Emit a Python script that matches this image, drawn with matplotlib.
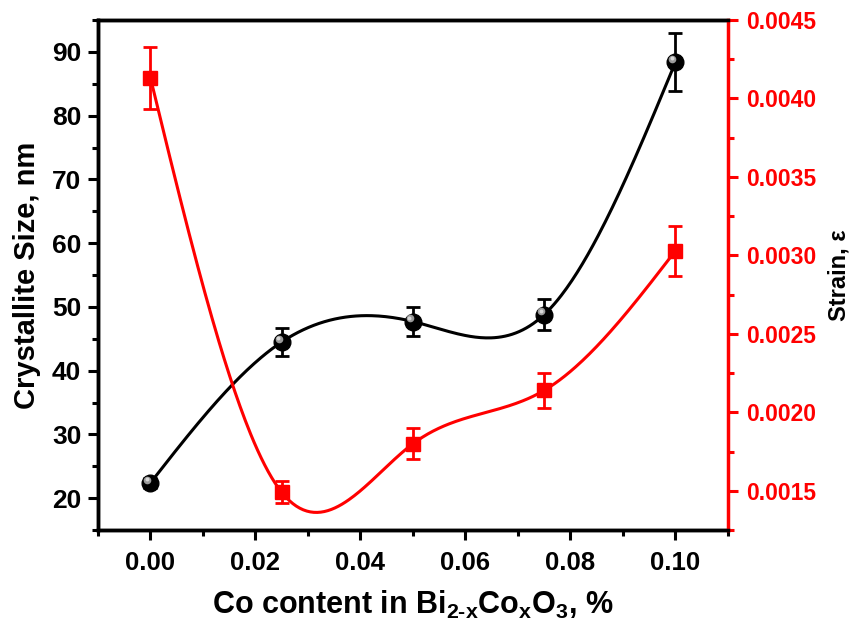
import numpy as np
import matplotlib
matplotlib.use("Agg")
import matplotlib.pyplot as plt
from matplotlib import font_manager
import matplotlib.transforms as mtransforms

# ---- data ----
co_content = [0.0, 0.025, 0.05, 0.075, 0.10]
crystallite_size = [22.4, 44.5, 47.7, 48.8, 88.4]
size_err = [0.8, 2.2, 2.3, 2.4, 4.5]
strain = [0.00413, 0.00149, 0.00180, 0.00214, 0.00303]
strain_err = [0.00020, 0.00007, 0.00010, 0.00011, 0.00016]

x_ticks = [0.00, 0.02, 0.04, 0.06, 0.08, 0.10]
left_ticks = [20, 30, 40, 50, 60, 70, 80, 90]
right_ticks = [0.0015, 0.0020, 0.0025, 0.0030, 0.0035, 0.0040, 0.0045]


def natural_spline(x, y, n=300):
    x = np.asarray(x, float); y = np.asarray(y, float)
    k = len(x); h = np.diff(x)
    A = np.zeros((k, k)); b = np.zeros(k)
    A[0, 0] = 1; A[-1, -1] = 1
    for i in range(1, k - 1):
        A[i, i - 1] = h[i - 1]
        A[i, i] = 2 * (h[i - 1] + h[i])
        A[i, i + 1] = h[i]
        b[i] = 3 * ((y[i + 1] - y[i]) / h[i] - (y[i] - y[i - 1]) / h[i - 1])
    c = np.linalg.solve(A, b)
    xs = np.linspace(x[0], x[-1], n)
    ys = np.empty_like(xs)
    for j, xv in enumerate(xs):
        i = min(np.searchsorted(x, xv, side='right') - 1, k - 2)
        d = xv - x[i]
        bi = (y[i + 1] - y[i]) / h[i] - h[i] * (2 * c[i] + c[i + 1]) / 3
        di = (c[i + 1] - c[i]) / (3 * h[i])
        ys[j] = y[i] + bi * d + c[i] * d ** 2 + di * d ** 3
    return xs, ys


names = {f.name for f in font_manager.fontManager.ttflist}
base = 'Liberation Sans' if 'Liberation Sans' in names else 'DejaVu Sans'
plt.rcParams['font.family'] = [base, 'DejaVu Sans']
plt.rcParams['font.weight'] = 'bold'
plt.rcParams['mathtext.fontset'] = 'custom'
plt.rcParams['mathtext.rm'] = base + ':bold'
plt.rcParams['mathtext.it'] = base + ':bold'
plt.rcParams['mathtext.bf'] = base + ':bold'

fig = plt.figure(figsize=(8.62, 6.41), dpi=100)
ax = fig.add_axes([98 / 862, 1 - 530 / 641, 630 / 862, 510 / 641])
ax2 = ax.twinx()

# black series
xs, ys = natural_spline(co_content, crystallite_size)
ax.plot(xs, ys, color='black', lw=2.2, zorder=2)
ax.errorbar(co_content, crystallite_size, yerr=size_err, fmt='none', ecolor='black',
            elinewidth=2, capsize=5, capthick=2, zorder=3)
ax.plot(co_content, crystallite_size, 'o', color='black', ms=12, zorder=4)
off = mtransforms.offset_copy(ax.transData, fig=fig, x=-2.3, y=2.3, units='points')
ax.plot(co_content, crystallite_size, 'o', color='#9a9a9a', ms=5.5, mec='none', transform=off, zorder=5)
off2 = mtransforms.offset_copy(ax.transData, fig=fig, x=-2.6, y=2.6, units='points')
ax.plot(co_content, crystallite_size, 'o', color='#d8d8d8', ms=2.8, mec='none', transform=off2, zorder=6)

# red series
xs2, ys2 = natural_spline(co_content, strain)
ax2.plot(xs2, ys2, color='red', lw=2.2, zorder=2)
ax2.errorbar(co_content, strain, yerr=strain_err, fmt='none', ecolor='red',
             elinewidth=2, capsize=5, capthick=2, zorder=3)
ax2.plot(co_content, strain, 's', color='red', ms=10.5, zorder=4)

ax.set_xlim(-0.01, 0.11)
ax.set_ylim(15, 95)
ax2.set_ylim(0.00125, 0.0045)

ax.set_xticks(x_ticks)
ax.set_xticks(np.arange(-0.01, 0.1101, 0.01), minor=True)
ax.set_xticklabels(['%.2f' % v for v in x_ticks], fontsize=18.5, fontweight='bold')
ax.set_yticks(left_ticks)
ax.set_yticks(np.arange(15, 95.1, 5), minor=True)
ax.set_yticklabels([str(v) for v in left_ticks], fontsize=19, fontweight='bold')
ax2.set_yticks(right_ticks)
ax2.set_yticks(np.arange(0.00125, 0.00451, 0.00025), minor=True)
ax2.set_yticklabels(['%.4f' % v for v in right_ticks], fontsize=16.5, fontweight='bold', color='red')

ax.tick_params(axis='both', which='major', direction='out', length=7, width=2.2, colors='black')
ax.tick_params(axis='both', which='minor', direction='out', length=4, width=2.2)
ax.tick_params(axis='x', pad=8)
ax.tick_params(axis='y', pad=5)
ax2.tick_params(axis='y', which='major', direction='out', length=7, width=2.2, colors='red', pad=6)
ax2.tick_params(axis='y', which='minor', direction='out', length=4, width=2.2, colors='red')

for s in ['left', 'bottom', 'top']:
    ax.spines[s].set_linewidth(2.5)
    ax2.spines[s].set_linewidth(2.5)
ax2.spines['right'].set_linewidth(2.5)
ax2.spines['right'].set_color('red')
ax.spines['right'].set_visible(False)

ax.set_ylabel('Crystallite Size, nm', fontsize=21, fontweight='bold', labelpad=8)
ax2.set_ylabel('Strain, ε', fontsize=17, fontweight='bold', color='black', labelpad=8)
ax.set_xlabel(r'Co content in Bi$_{\mathregular{2\text{-}x}}$Co$_{\mathregular{x}}$O$_{\mathregular{3}}$, %',
              fontsize=22, fontweight='bold', labelpad=10)

fig.savefig('out.png', dpi=100)
